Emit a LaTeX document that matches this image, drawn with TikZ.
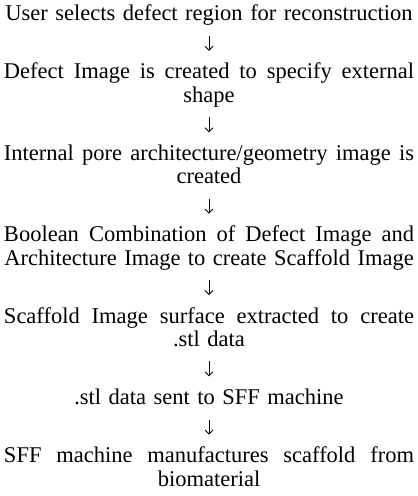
\documentclass[tikz,border=0pt]{standalone}
\usepackage{fontspec}
\setmainfont{Liberation Serif}
\usetikzlibrary{arrows.meta}
\newcommand{\fullline}[1]{\makebox[410bp][s]{\spaceskip=5.6bp plus 20bp minus 1bp\relax #1}}
\newcommand{\stepfont}{\fontsize{22.5bp}{23.3bp}\selectfont}
\tikzset{
  stepbox/.style={anchor=north, inner sep=0pt, outer sep=0pt, text width=410bp, align=center,
    font=\stepfont},
  flow/.style={line width=0.9bp, -{Straight Barb[length=4bp,width=8bp]}, shorten <=8bp, shorten >=11.8bp}
}
\begin{document}
\begin{tikzpicture}[x=1bp,y=1bp]
\useasboundingbox (0,0) rectangle (417,-496);
\node[stepbox] (s1) at (209,-4.69) {\strut User selects defect region for reconstruction\strut};
\node[stepbox] (s2) at (209,-62.69) {\strut\fullline{Defect Image is created to specify external}\\ shape\strut};
\node[stepbox] (s3) at (209,-144.09) {\strut\fullline{Internal pore architecture/geometry image is}\\ created\strut};
\node[stepbox] (s4) at (209,-225.49) {\strut\fullline{Boolean Combination of Defect Image and}\\ Architecture Image to create Scaffold Image\strut};
\node[stepbox] (s5) at (209,-306.89) {\strut\fullline{Scaffold Image surface extracted to create}\\ .stl data\strut};
\node[stepbox] (s6) at (209,-388.29) {\strut .stl data sent to SFF machine\strut};
\node[stepbox] (s7) at (209,-446.39) {\strut\fullline{SFF machine manufactures scaffold from}\\ biomaterial\strut};
\draw[flow] (s1) -- (s2);
\draw[flow] (s2) -- (s3);
\draw[flow] (s3) -- (s4);
\draw[flow] (s4) -- (s5);
\draw[flow] (s5) -- (s6);
\draw[flow] (s6) -- (s7);
\end{tikzpicture}
\end{document}
